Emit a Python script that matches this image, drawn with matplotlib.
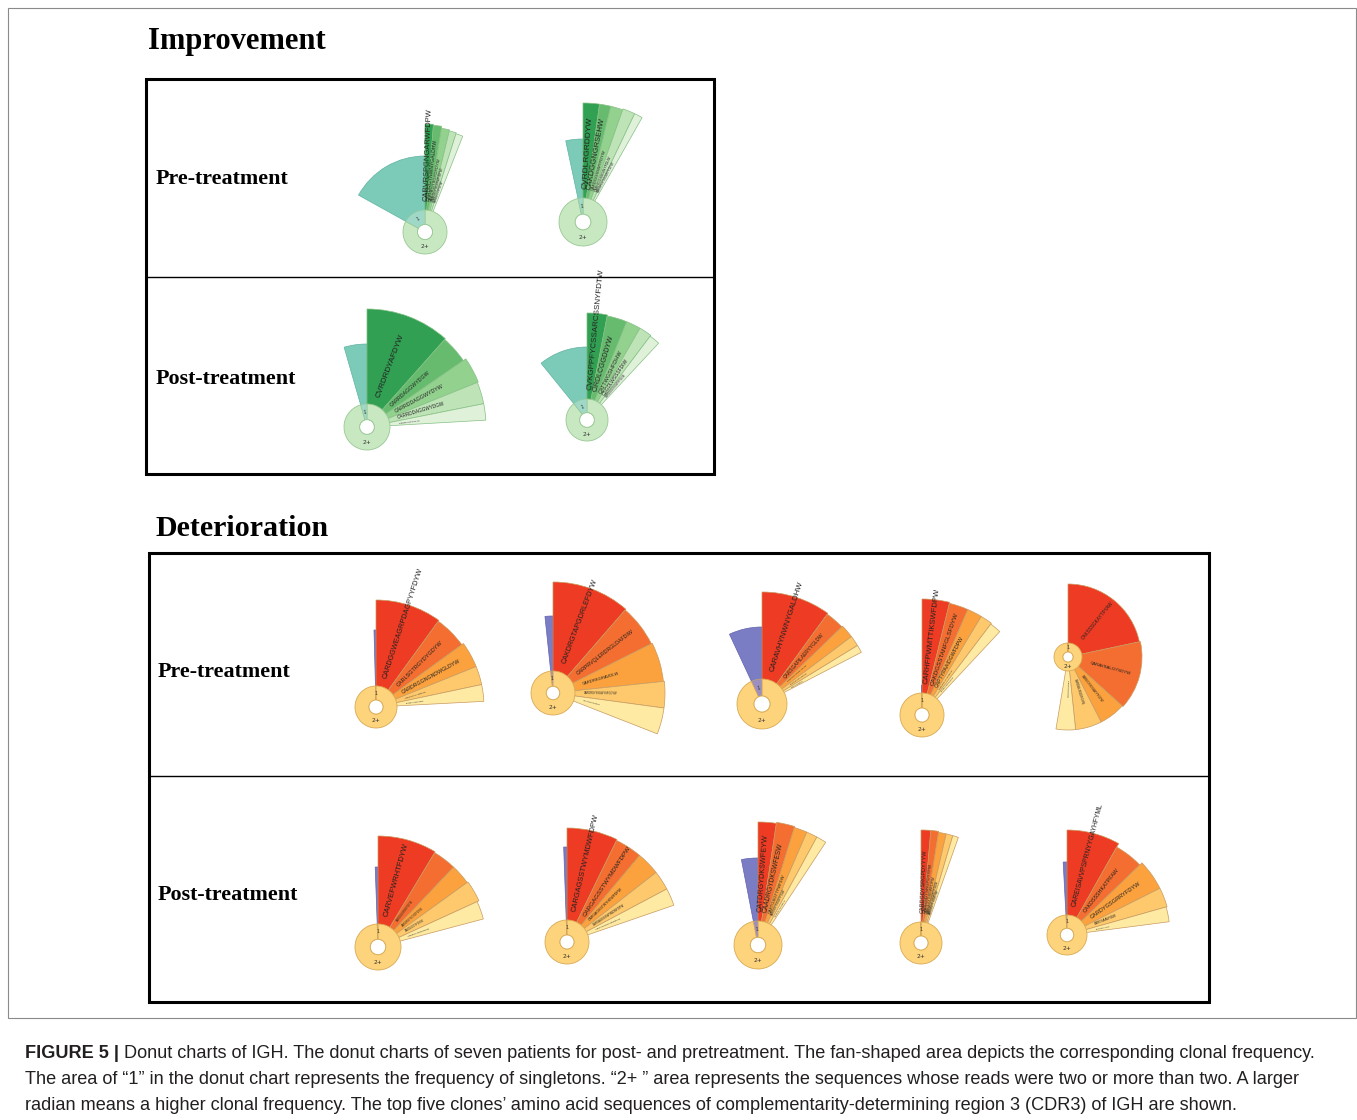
import math
import matplotlib
matplotlib.use("Agg")
import matplotlib.pyplot as plt
from matplotlib.patches import Wedge, Circle, Rectangle

W, H = 1357, 1120

# chart order: improvement pre/post, deterioration pre/post
chart_names = ["imp_pre_1", "imp_pre_2", "imp_post_1", "imp_post_2",
               "det_pre_1", "det_pre_2", "det_pre_3", "det_pre_4", "det_pre_5",
               "det_post_1", "det_post_2", "det_post_3", "det_post_4", "det_post_5"]

# singleton ("1") share in degrees and its fan length
singleton_deg = [61, 12, 16, 39, 1.5, 6, 25, 0.8, 0.5, 2, 2, 11, 0.6, 3]
singleton_len = [76, 83, 83, 73, 77, 77, 77, 30, 10, 80, 95, 87, 20, 73]

# top five clones: angular share (deg) and fan length
clone_deg = [
    [4.5, 4.5, 4.5, 4, 4],
    [8, 5.5, 6, 6, 4],
    [41.6, 13.8, 12.6, 10.7, 8],
    [11, 11, 8, 7, 6],
    [36, 18, 14, 10, 9],
    [41, 22.4, 20.6, 13.7, 13.7],
    [36, 10, 7, 5.5, 4],
    [13.8, 9.7, 7.5, 6.1, 5.9],
    [78, 54, 21, 21, 15.5],
    [31, 12.4, 10.7, 11.3, 9.7],
    [26, 14, 12, 10, 9],
    [8.6, 8.6, 6.2, 5.2, 4.8],
    [5, 4, 4, 3.5, 3],
    [29.5, 16.6, 17.2, 10.9, 8.4],
]
clone_len = [
    [108, 107, 105, 104, 103],
    [119, 119, 119, 120, 120],
    [118, 117, 120, 119, 119],
    [107, 106, 106, 106, 105],
    [107, 106, 108, 108, 108],
    [111, 110, 111, 112, 112],
    [112, 111, 112, 112, 112],
    [116, 115, 115, 115, 114],
    [73, 74, 73, 73, 73],
    [111, 110, 110, 111, 109],
    [114, 113, 113, 113, 113],
    [123, 124, 123, 123, 123],
    [113, 113, 112, 112, 112],
    [105, 101, 104, 104, 103],
]
clone_seqs = [
    ["CARVRSPGNGARWFDPW", "CARDRGYNWNYGALDHW", "CAKDRGYSGYDFDYW", "CARGGYSGSWFDPW", "CARDLGGYFDYW"],
    ["CVRDLRGRDDYW", "CAKDGGNGRSEHW", "CARDGGSSWYFDYW", "CARHGGSSGWYFDLW", "CAKGRGYSSGWYFDYW"],
    ["CVRDRDYAFDYW", "CARRDAGGWYDGW", "CARRDDAGGWYDYW", "CARRDDAGGWYDGW", "CARRDDAGGWYDYW"],
    ["CVKGPPFYCSSARCSSNYFDTW", "CIRDLCGGDDYW", "CATTWGSHFDHW", "CSGDLWSSSFDIW", "CARDGGSSGWYFDLW"],
    ["CARDGGWEAGRPDAGPYYFDYW", "CARLSGTRGYDYGDYW", "CARDRGGNGNDWGLDYW", "CARDGGSYYYGMDVW", "CARGRYSSGWYFDLW"],
    ["CAKDRGTAPGDRLEFDYW", "CARPRVQLERDRGLDAFDIW", "CARDRKGRAVDLW", "CARDRGYSSGWYSPGDYW", "CARGGYSSSWYFDYW"],
    ["CARAVHYNWNYGALDHW", "CARSGAPILAERYYGLDW", "CARDGGYSSGWYFDLW", "CARGRGYSGYDFDYW", "CAKDLGGYFDYW"],
    ["CARHFPWMTTIKSWFDPW", "CAKDGSSTANFGLSFDYW", "CAPTYPAAIDGWFDPW", "CARDGGSYYYGMDVW", "CARGRGYSSGWYFDLW"],
    ["CAKSSSGKAYTPYAW", "CARAVSALGYSDYW", "CAREGSSGGAYYFDYW", "CARDWLRGDIFDYW", "CARGGYSGYDLW"],
    ["CARVEFWRHTFDYW", "CARDGGSSWYFDYW", "CARGRGYSGYDFDYW", "CAKDLGGYFDYW", "CARDRGYSSGWYFDLW"],
    ["CARGAGSSTWYMDWFDPW", "CARGAGSSTWYMDWFDPW", "CARGAGSSTWYHDWFDPW", "CARGAGSSSWYMDWFDPW", "CARGAGSGTWYMDWFDPW"],
    ["CATDRGYDKSWFEYW", "CAADRGYDKSWFESW", "CARTGSGTTFWFDW", "CARDGGYSSGWYFDLW", "CAKGRGYSGYDFDYW"],
    ["CARDGDYSRGPDYYYW", "CARDGDYSRGPDYYFW", "CAKDLGYGSGWFDPW", "CARGRGYSSGWYFDLW", "CARDGGYYYGMDVW"],
    ["CAREISAVVPSPRNYYGAYHFYML", "CAKDSSSHKATPFAW", "CARDYGSGRRYFDYW", "CARGSAAVFIDW", "CARDLGGYFDYW"],
]

# layout (pixels from top-left): donut centre, outer / inner radius
centers = [(425, 232), (583, 222), (367, 427), (587, 420),
           (376, 707), (553, 693), (762, 704), (922, 715), (1068, 657),
           (378, 947), (567, 942), (758, 945), (921, 943), (1067, 935)]
rings = [(22, 7.5), (24, 7.8), (23, 7.3), (21, 7.3),
         (21, 7), (22, 6.7), (25, 8), (22, 7), (14, 5),
         (23, 7.7), (22, 7), (24, 7.7), (21, 7), (20, 6.7)]
label_pt = [
    [5.4, 3.6, 3, 2.5, 2],
    [6, 5.5, 3, 2.6, 2.2],
    [5.8, 3.8, 3.8, 3.3, 1.5],
    [5.8, 5, 4, 3.5, 2],
    [5.2, 4, 3.8, 1.5, 1.3],
    [5.1, 3.8, 3, 1.8, 1.2],
    [5.6, 3.5, 1.6, 1.4, 1.2],
    [5.5, 4.5, 3.8, 1.6, 1.3],
    [3.3, 3.2, 2.2, 2, 1.5],
    [5.5, 1.8, 1.8, 1.8, 1.5],
    [5.4, 4.5, 2.5, 2, 1.5],
    [5.2, 4.8, 3, 1.8, 1.4],
    [4, 3.2, 2.6, 2.2, 1.8],
    [4.9, 3.9, 4.1, 2.2, 1.3],
]

GREEN = dict(single="#7ccbb9", single_edge="#5fb3a2",
             clones=["#31a052", "#66bb6f", "#93d18f", "#bde3b6", "#dff1d9"],
             edge="#86c084", ring="#c8e8c1", ring1="#9fd8c6", ring_edge="#98c894")
RED = dict(single="#7a7cc4", single_edge="#6062b0",
           clones=["#ee3b24", "#f36e30", "#fba23f", "#fdc96c", "#feeaa2"],
           edge="#c89a60", ring="#fdd37b", ring1="#9b8fc0", ring_edge="#d9aa55")

fig = plt.figure(figsize=(W / 100, H / 100), dpi=100)
ax = fig.add_axes([0, 0, 1, 1])
ax.set_xlim(0, W)
ax.set_ylim(0, H)
ax.set_aspect("equal")
ax.axis("off")


def draw_chart(k):
    cx, cy = centers[k][0], H - centers[k][1]
    rd, rh = rings[k]
    pal = GREEN if chart_names[k].startswith("imp") else RED
    s = singleton_deg[k]
    ax.add_patch(Wedge((cx, cy), singleton_len[k], 90, 90 + s,
                       fc=pal["single"], ec=pal["single_edge"], lw=0.5, zorder=2))
    theta = 90
    mids = []
    for j, (d, r) in enumerate(zip(clone_deg[k], clone_len[k])):
        ax.add_patch(Wedge((cx, cy), r, theta - d, theta,
                           fc=pal["clones"][j], ec=pal["edge"], lw=0.5, zorder=2))
        mids.append(theta - d / 2)
        theta -= d
    # donut on top
    ax.add_patch(Wedge((cx, cy), rd, 90 + s, 450, width=rd - rh,
                       fc=pal["ring"], ec=pal["ring_edge"], lw=0.6, zorder=3))
    ax.add_patch(Wedge((cx, cy), rd, 90, 90 + s, width=rd - rh,
                       fc=pal["ring1"], ec=pal["ring_edge"], lw=0.4, zorder=3))
    ax.add_patch(Circle((cx, cy), rh, fc="white", ec=pal["ring_edge"], lw=0.6, zorder=4))
    ax.text(cx, cy - (rd + rh) / 2, "2+", fontsize=4.2, ha="center", va="center",
            color="#333333", zorder=5)
    a1 = math.radians(90 + s / 2)
    rm = (rd + rh) / 2
    ax.text(cx + rm * math.cos(a1), cy + rm * math.sin(a1), "1", fontsize=3.4,
            ha="center", va="center", rotation=s / 2, color="#333333", zorder=5)
    r0 = rd + 9
    for j, mid in enumerate(mids):
        a = math.radians(mid)
        ax.text(cx + r0 * math.cos(a), cy + r0 * math.sin(a), clone_seqs[k][j],
                fontsize=label_pt[k][j], rotation=mid, rotation_mode="anchor",
                ha="left", va="center", color="#222222", family="Liberation Sans",
                zorder=6)


for k in range(len(chart_names)):
    draw_chart(k)

# frames
ax.add_patch(Rectangle((8, H - 1018), 1348, 1010, fill=False, ec="#8a8a8a", lw=0.8))
ax.add_patch(Rectangle((146, H - 474), 568, 395, fill=False, ec="black", lw=2.2))
ax.plot([146, 714], [H - 277, H - 277], color="black", lw=1)
ax.add_patch(Rectangle((149, H - 1002), 1060, 449, fill=False, ec="black", lw=2.2))
ax.plot([149, 1209], [H - 776, H - 776], color="black", lw=1)

serif = dict(family="Liberation Serif", fontweight="bold", color="black")
ax.text(148, H - 42, "Improvement", fontsize=22, ha="left", va="center", **serif)
ax.text(156, H - 528, "Deterioration", fontsize=21.6, ha="left", va="center", **serif)
for x, y, t in [(156, 179, "Pre-treatment"), (156, 379, "Post-treatment"),
                (158, 672, "Pre-treatment"), (158, 895, "Post-treatment")]:
    ax.text(x, H - y, t, fontsize=15.8, ha="left", va="center", **serif)

# caption
cap_lines = [
    "Donut charts of IGH. The donut charts of seven patients for post- and pretreatment. The fan-shaped area depicts the corresponding clonal frequency.",
    "The area of \u201c1\u201d in the donut chart represents the frequency of singletons. \u201c2+ \u201d area represents the sequences whose reads were two or more than two. A larger",
    "radian means a higher clonal frequency. The top five clones\u2019 amino acid sequences of complementarity-determining region 3 (CDR3) of IGH are shown.",
]
cap_style = dict(family="Liberation Sans", fontsize=13.1, color="#231f20", va="center", ha="left")
bold = ax.text(25, H - 1054, "FIGURE 5 | ", fontweight="bold", **cap_style)
fig.canvas.draw()
bb = bold.get_window_extent(renderer=fig.canvas.get_renderer())
ax.text(25 + bb.width, H - 1054, cap_lines[0], **cap_style)
ax.text(25, H - 1080, cap_lines[1], **cap_style)
ax.text(25, H - 1105, cap_lines[2], **cap_style)

fig.savefig("out.png", dpi=100)
